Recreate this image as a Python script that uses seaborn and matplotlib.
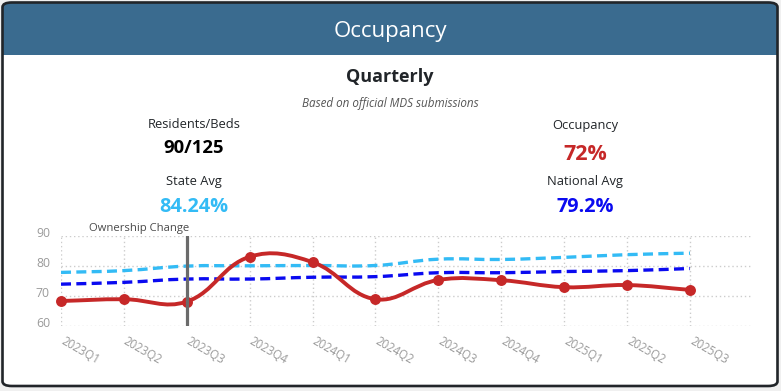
import numpy as np
import matplotlib
matplotlib.use("Agg")
import matplotlib.pyplot as plt
import matplotlib.transforms as mtransforms
import seaborn as sns
from matplotlib.patches import FancyBboxPatch, Rectangle, PathPatch
from matplotlib.path import Path

# quarterly data
quarters = ['2023Q1', '2023Q2', '2023Q3', '2023Q4', '2024Q1', '2024Q2',
            '2024Q3', '2024Q4', '2025Q1', '2025Q2', '2025Q3']
occupancy = [68.3, 68.9, 68.1, 83.0, 81.2, 68.9, 75.3, 75.2, 72.9, 73.6, 72.0]
state_avg = [77.8, 78.4, 79.9, 80.0, 80.1, 80.1, 82.2, 82.1, 82.8, 83.7, 84.2]
national_avg = [73.9, 74.5, 75.6, 75.6, 76.2, 76.4, 77.7, 77.7, 78.1, 78.4, 79.1]
ownership_change = '2023Q3'

# header figures
residents_beds = '90/125'
occupancy_now = '72%'
state_now = '84.24%'
national_now = '79.2%'

RED = '#c62828'
LIGHT_BLUE = '#33bbf5'
DARK_BLUE = '#0a0af0'
HEADER = '#3a6b8f'
W, H = 781, 391

sns.set_theme(style='white')
plt.rcParams['font.family'] = ['Open Sans', 'DejaVu Sans']


def px(x, y):
    # pixel (from top-left) -> figure fraction
    return x / W, 1 - y / H


def smooth_path(ax, xs, ys, tension=0.4):
    # chart.js style spline through the points, computed in screen space
    pts = ax.transData.transform(np.column_stack([xs, ys]))
    n = len(pts)
    cp_in, cp_out = np.zeros_like(pts), np.zeros_like(pts)
    for i in range(n):
        prev, cur, nxt = pts[max(i - 1, 0)], pts[i], pts[min(i + 1, n - 1)]
        d01 = np.hypot(*(cur - prev))
        d12 = np.hypot(*(nxt - cur))
        tot = d01 + d12 if d01 + d12 else 1
        cp_in[i] = cur - tension * d01 / tot * (nxt - prev)
        cp_out[i] = cur + tension * d12 / tot * (nxt - prev)
    verts, codes = [pts[0]], [Path.MOVETO]
    for i in range(n - 1):
        verts += [cp_out[i], cp_in[i + 1], pts[i + 1]]
        codes += [Path.CURVE4] * 3
    verts = ax.transData.inverted().transform(np.array(verts))
    return Path(verts, codes)


fig = plt.figure(figsize=(W / 100, H / 100), dpi=100)
fig.patch.set_facecolor('#f0f0f0')

# card + header bar
x0, y0 = px(2.5, 386)
x1, y1 = px(777.5, 2.5)
fig.patches.append(FancyBboxPatch((x0, y0), x1 - x0, y1 - y0, boxstyle='round,pad=0,rounding_size=0.012',
                                  transform=fig.transFigure, facecolor='white', edgecolor='none', zorder=0))
hx0, hy0 = px(2.5, 55)
fig.patches.append(FancyBboxPatch((hx0, hy0), x1 - hx0, y1 - hy0, boxstyle='round,pad=0,rounding_size=0.012',
                                  transform=fig.transFigure, facecolor=HEADER, edgecolor='none', zorder=1))
fig.patches.append(Rectangle((hx0, hy0), x1 - hx0, 0.04, transform=fig.transFigure,
                             facecolor=HEADER, edgecolor='none', zorder=1))
fig.patches.append(FancyBboxPatch((x0, y0), x1 - x0, y1 - y0, boxstyle='round,pad=0,rounding_size=0.012',
                                  transform=fig.transFigure, facecolor='none', edgecolor='#212529',
                                  linewidth=1.9, zorder=2))

fig.text(*px(390, 31), 'Occupancy', ha='center', va='center', color='white', fontsize=16)
fig.text(*px(390, 77), 'Quarterly', ha='center', va='center', color='#212529', fontsize=13, fontweight='bold')
fig.text(*px(390, 103), 'Based on official MDS submissions', ha='center', va='center',
         color='#555555', fontsize=8.4, style='italic')

fig.text(*px(194, 125), 'Residents/Beds', ha='center', va='center', color='#212529', fontsize=9.3)
fig.text(*px(194, 148), residents_beds, ha='center', va='center', color='black', fontsize=13.3, fontweight='bold')
fig.text(*px(585, 125), 'Occupancy', ha='center', va='center', color='#212529', fontsize=9.3)
fig.text(*px(585, 154), occupancy_now, ha='center', va='center', color=RED, fontsize=15.5, fontweight='bold')
fig.text(*px(194, 182), 'State Avg', ha='center', va='center', color='#212529', fontsize=9.3)
fig.text(*px(194, 207), state_now, ha='center', va='center', color=LIGHT_BLUE, fontsize=14.3, fontweight='bold')
fig.text(*px(585, 182), 'National Avg', ha='center', va='center', color='#212529', fontsize=9.3)
fig.text(*px(585, 207), national_now, ha='center', va='center', color=DARK_BLUE, fontsize=14.3, fontweight='bold')

# chart area
left, bottom = px(61, 326)
right, top = px(751, 235.7)
ax = fig.add_axes([left, bottom, right - left, top - bottom])
ax.set_zorder(5)
ax.set_facecolor('none')
idx = np.arange(len(quarters))
ax.set_xlim(0, 10.97)
ax.set_ylim(60, 90)

for series, color in [(state_avg, LIGHT_BLUE), (national_avg, DARK_BLUE)]:
    ax.add_patch(PathPatch(smooth_path(ax, idx, series), facecolor='none', edgecolor=color,
                           linewidth=2.4, linestyle=(0, (3.0, 1.6)), capstyle='butt', zorder=3))
ax.add_patch(PathPatch(smooth_path(ax, idx, occupancy), facecolor='none', edgecolor=RED,
                       linewidth=2.8, zorder=4))
sns.scatterplot(x=idx, y=occupancy, color=RED, s=62, edgecolor=RED, linewidth=0, zorder=5, ax=ax, clip_on=False)

own = quarters.index(ownership_change)
ax.axvline(own, color='#6b6b6b', linewidth=2.3, zorder=6)
ax.annotate('Ownership Change', xy=(own, 90), xytext=(2, 5), textcoords='offset points',
            ha='right', va='center', fontsize=8.1, color='#4a4a4a')

ax.set_xticks(idx)
ax.set_xticklabels(quarters)
ax.set_yticks([60, 70, 80, 90])
ax.tick_params(axis='both', length=0, labelcolor='#9a9a9a')
ax.tick_params(axis='y', pad=8, labelsize=8.8)
ax.tick_params(axis='x', pad=6, labelsize=8.3)
plt.setp(ax.get_xticklabels(), rotation=-30, ha='left', va='top', rotation_mode='anchor')
# nudge tick labels the way the original renderer places them
shift_x = mtransforms.ScaledTranslation(4 / 100, 0, fig.dpi_scale_trans)
for lab in ax.get_xticklabels():
    lab.set_transform(lab.get_transform() + shift_x)
shift_y = mtransforms.ScaledTranslation(0, 4 / 100, fig.dpi_scale_trans)
for lab in ax.get_yticklabels():
    lab.set_transform(lab.get_transform() + shift_y)
ax.grid(True, linestyle=(0, (1, 2)), color='#cccccc', linewidth=1)
sns.despine(ax=ax, left=True, bottom=True)

fig.savefig('out.png', dpi=100, facecolor=fig.get_facecolor())
